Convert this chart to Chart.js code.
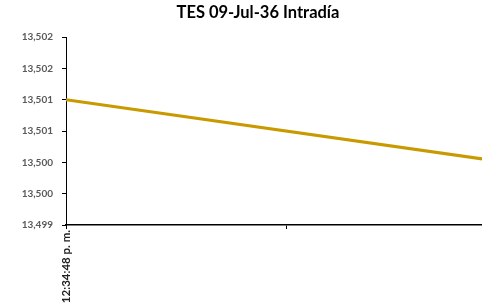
<!DOCTYPE html>
<html>
<head>
<meta charset="utf-8">
<script src="https://cdn.jsdelivr.net/npm/chart.js@4/dist/chart.umd.min.js"></script>
<style>
  html, body { margin: 0; padding: 0; background: #fff; }
  #wrap { position: relative; width: 482px; height: 308px; }
  #title { position: absolute; top: 2px; left: 0; width: 516px; text-align: center;
           font-family: Lato, "Open Sans", sans-serif; font-weight: bold; font-size: 16.5px; color: #000; }
</style>
</head>
<body>
<div id="wrap">
  <canvas id="c" width="482" height="308"></canvas>
  <div id="title">TES 09-Jul-36 Intradía</div>
</div>
<script>
const chartTitle = 'TES 09-Jul-36 Intradía';
const categories = ['12:34:48 p. m.', '', ''];
const prices = [13.501, null, 13.500];
const yMin = 13.499, yMax = 13.502, yStep = 0.0005;

document.getElementById('title').textContent = chartTitle;

const fmt = v => {
  const n = Math.round(v * 2000);
  const r = Math.round(n / 2) / 1000;
  return r.toFixed(3).replace('.', ',');
};

new Chart(document.getElementById('c'), {
  type: 'line',
  data: {
    datasets: [{
      data: prices.map((v, i) => ({ x: i, y: v })),
      borderColor: '#C99A00',
      borderWidth: 3,
      pointRadius: 0,
      tension: 0,
      spanGaps: true
    }]
  },
  options: {
    responsive: false,
    animation: false,
    layout: { padding: { top: 37, right: 0, bottom: 0, left: 0 } },
    plugins: { legend: { display: false }, tooltip: { enabled: false } },
    scales: {
      x: {
        type: 'linear',
        min: 0,
        max: 1.89,
        afterFit: s => { s.height = 83; },
        border: { display: true, color: '#000', width: 1.5 },
        grid: { drawOnChartArea: false, drawTicks: true, tickLength: 4, color: '#000' },
        ticks: {
          stepSize: 1,
          includeBounds: false,
          autoSkip: false,
          minRotation: 90,
          maxRotation: 90,
          padding: 1,
          color: '#222',
          font: { family: 'Lato', weight: 'bold', size: 11.5 },
          callback: v => categories[v] ?? ''
        }
      },
      y: {
        min: yMin,
        max: yMax,
        afterFit: s => { s.width = 66; },
        border: { display: true, color: '#000', width: 1 },
        grid: { drawOnChartArea: false, drawTicks: true, tickLength: 4, color: '#000' },
        ticks: {
          stepSize: yStep,
          padding: 9,
          color: '#595959',
          font: { family: 'Lato', weight: 'bold', size: 10 },
          callback: v => fmt(v)
        }
      }
    }
  }
});
</script>
</body>
</html>
